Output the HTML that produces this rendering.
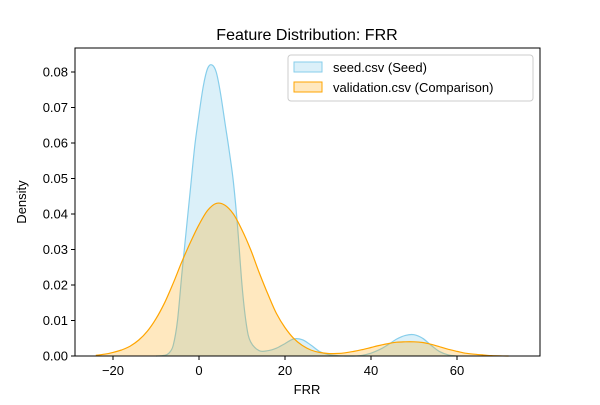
<!DOCTYPE html>
<html><head><meta charset="utf-8"><style>
body{margin:0;background:#fff}
svg text{font-family:"Liberation Sans","DejaVu Sans",sans-serif;fill:#000}
</style></head><body>
<svg id="chart" width="600" height="400" xmlns="http://www.w3.org/2000/svg">
<rect width="600" height="400" fill="#fff"/>
<text x="307" y="40" font-size="16" text-anchor="middle">Feature Distribution: FRR</text>
<g id="marks"></g>
<rect x="75" y="48" width="465" height="308" fill="none" stroke="#000" stroke-width="1"/>
<g id="axes"></g>
<text x="307" y="394" font-size="13" text-anchor="middle">FRR</text>
<text x="26" y="202" font-size="13" text-anchor="middle" transform="rotate(-90 26 202)">Density</text>
<g>
<rect x="288" y="55" width="245" height="46" fill="#fff" fill-opacity="0.8" stroke="#ccc" rx="3"/>
<rect x="294" y="62" width="28" height="10" fill="#87ceeb" fill-opacity="0.3" stroke="#87ceeb"/>
<text x="333" y="72" font-size="13">seed.csv (Seed)</text>
<rect x="294" y="82" width="28" height="10" fill="#ffa500" fill-opacity="0.25" stroke="#ffa500"/>
<text x="333" y="92" font-size="13">validation.csv (Comparison)</text>
</g>
</svg>
<script>
const seedX=[-10,-8,-7,-6,-5,-4,-3,-2,-1,0,1,2,3,4,5,6,7,8,9,10,11,12,14,16,18,20,22,24,26,28,30,32,34,36,38,40,42,44,46,48,50,52,54,56,58,60];
const seedY=[0,0.0002,0.0008,0.003,0.01,0.023,0.035,0.047,0.059,0.068,0.076,0.081,0.082,0.08,0.074,0.066,0.058,0.049,0.036,0.02,0.009,0.004,0.0015,0.0015,0.0022,0.0035,0.0048,0.0046,0.0031,0.0013,0.0004,0.0001,0,0,0.0002,0.0008,0.0018,0.0032,0.0048,0.0058,0.006,0.005,0.003,0.0012,0.0003,0];
const valX=[-24,-22,-20,-18,-16,-14,-12,-10,-8,-6,-4,-2,0,2,4,6,8,10,12,14,16,18,20,22,24,26,28,30,32,34,36,38,40,42,44,46,48,50,52,54,56,58,60,62,64,66,68,70,72];
const valY=[0.0002,0.0005,0.001,0.0017,0.0028,0.0045,0.007,0.0105,0.015,0.0205,0.0265,0.032,0.037,0.041,0.043,0.0425,0.04,0.0355,0.03,0.0235,0.0175,0.012,0.008,0.005,0.003,0.0017,0.001,0.0007,0.0007,0.0009,0.0013,0.0018,0.0024,0.003,0.0035,0.0039,0.004,0.004,0.0038,0.0033,0.0026,0.0019,0.0013,0.0008,0.0005,0.0003,0.0001,0.00005,0];
const xTicks=[-20,0,20,40,60];
const yTicks=[0,0.01,0.02,0.03,0.04,0.05,0.06,0.07,0.08];
const yLabels=["0.00","0.01","0.02","0.03","0.04","0.05","0.06","0.07","0.08"];
const sx=v=>199+v*4.3;
const sy=v=>356-v*3550;
const NS="http://www.w3.org/2000/svg";
const marks=document.getElementById('marks');
function smooth(xs,ys){
  const P=xs.map((x,i)=>[sx(x),sy(ys[i])]);
  let d='M'+P[0][0].toFixed(1)+','+P[0][1].toFixed(1);
  for(let i=0;i<P.length-1;i++){
    const p0=P[Math.max(0,i-1)],p1=P[i],p2=P[i+1],p3=P[Math.min(P.length-1,i+2)];
    const c1x=p1[0]+(p2[0]-p0[0])/6,c1y=Math.min(356,p1[1]+(p2[1]-p0[1])/6);
    const c2x=p2[0]-(p3[0]-p1[0])/6,c2y=Math.min(356,p2[1]-(p3[1]-p1[1])/6);
    d+=' C'+c1x.toFixed(1)+','+c1y.toFixed(1)+' '+c2x.toFixed(1)+','+c2y.toFixed(1)+' '+p2[0].toFixed(1)+','+p2[1].toFixed(1);
  }
  return d;
}
function area(xs,ys,color,op,name){
  const line=smooth(xs,ys);
  const f=document.createElementNS(NS,'path');
  f.setAttribute('d',line+' L'+sx(xs[xs.length-1])+','+sy(0)+' L'+sx(xs[0])+','+sy(0)+' Z');
  f.setAttribute('fill',color);f.setAttribute('fill-opacity',op);
  
  
  marks.appendChild(f);
  const p=document.createElementNS(NS,'path');
  p.setAttribute('d',line);p.setAttribute('fill','none');p.setAttribute('stroke',color);p.setAttribute('stroke-width','1.2');
  
  
  marks.appendChild(p);
}
area(seedX,seedY,'#87ceeb',0.3,'seed-density');
area(valX,valY,'#ffa500',0.25,'validation-density');
const axes=document.getElementById('axes');
xTicks.forEach(t=>{
  const l=document.createElementNS(NS,'line');
  l.setAttribute('x1',sx(t));l.setAttribute('x2',sx(t));l.setAttribute('y1',356);l.setAttribute('y2',360);l.setAttribute('stroke','#000');
  
  
  axes.appendChild(l);
  const tx=document.createElementNS(NS,'text');
  tx.setAttribute('x',sx(t));tx.setAttribute('y',375);tx.setAttribute('font-size','13');tx.setAttribute('text-anchor','middle');
  tx.textContent=t<0?'\u2212'+(-t):t;
  
  
  axes.appendChild(tx);
});
yTicks.forEach((t,i)=>{
  const l=document.createElementNS(NS,'line');
  l.setAttribute('x1',71);l.setAttribute('x2',75);l.setAttribute('y1',sy(t));l.setAttribute('y2',sy(t));l.setAttribute('stroke','#000');
  
  
  axes.appendChild(l);
  const tx=document.createElementNS(NS,'text');
  tx.setAttribute('x',68);tx.setAttribute('y',sy(t)+4.5);tx.setAttribute('font-size','13');tx.setAttribute('text-anchor','end');
  tx.textContent=yLabels[i];
  
  
  axes.appendChild(tx);
});
</script>
</body></html>
